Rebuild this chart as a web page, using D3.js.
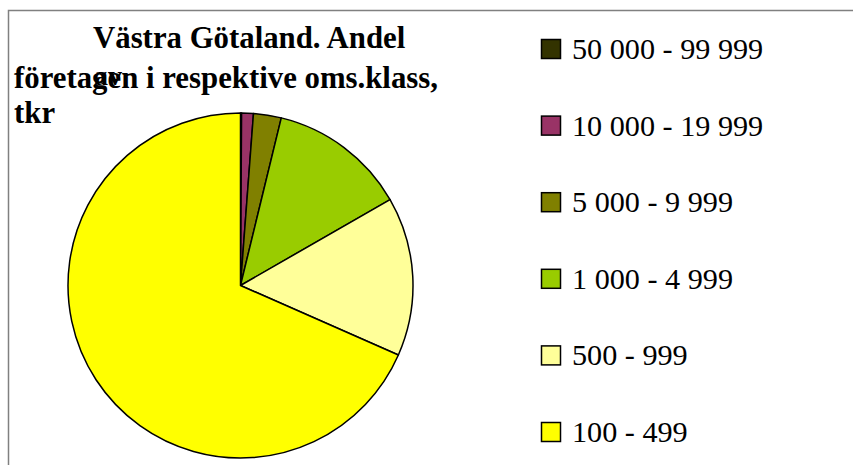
<!DOCTYPE html>
<html>
<head>
<meta charset="utf-8">
<script src="https://cdn.jsdelivr.net/npm/d3@7"></script>
<style>
  body { margin: 0; background: #fff; }
  svg { display: block; }
</style>
</head>
<body>
<div id="chart"></div>
<script>
// data (share of companies, %)
var classes = ["50 000 - 99 999", "10 000 - 19 999", "5 000 - 9 999", "1 000 - 4 999", "500 - 999", "100 - 499"];
var shares = [0.1, 1.1, 2.6, 12.9, 14.9, 68.4];
var colors = ["#333300", "#993366", "#808000", "#99cc00", "#ffff99", "#ffff00"];
var titleLines = ["Västra Götaland. Andel", "företagen i respektive oms.klass,", "tkr"];

var width = 853, height = 465;
var serif = "'Liberation Serif', 'Times New Roman', 'DejaVu Serif', serif";

var svg = d3.select("#chart").append("svg")
    .attr("width", width)
    .attr("height", height);

// chart area frame (runs off the right and bottom)
svg.append("rect")
    .attr("x", 8.5).attr("y", 10.5)
    .attr("width", 900).attr("height", 500)
    .style("fill", "none")
    .style("stroke", "#808080")
    .style("stroke-width", 1.5);

var data = classes.map(function(c, i) { return {label: c, value: shares[i], color: colors[i]}; });

// pie
var radius = 172.5;
var pie = d3.pie().sort(null).value(function(d) { return d.value; });
var arc = d3.arc().innerRadius(0).outerRadius(radius);

var g = svg.append("g")
    .attr("transform", "translate(240.5,285.5)");

g.selectAll("path")
    .data(pie(data))
  .enter().append("path")
    .attr("d", arc)
    .style("fill", function(d) { return d.data.color; })
    .style("stroke", "#000")
    .style("stroke-width", 1.5)
    .style("stroke-linejoin", "round");

// title
var title = svg.append("g").attr("class", "title");
var titlePos = [[93, 48], [14, 88], [14, 123]];
title.selectAll("text.line")
    .data(titleLines)
  .enter().append("text")
    .attr("class", "line")
    .attr("x", function(d, i) { return titlePos[i][0]; })
    .attr("y", function(d, i) { return titlePos[i][1]; })
    .style("font-family", serif)
    .style("font-size", "30.8px")
    .style("font-weight", "bold")
    .text(function(d) { return d; });

// the stray "av" that overlaps the second line
title.append("text")
    .attr("x", 94)
    .attr("y", 85)
    .style("font-family", serif)
    .style("font-size", "28px")
    .style("font-weight", "bold")
    .text("av");

// legend
var legendY = d3.scalePoint().domain(classes).range([59, 442]);

var legend = svg.selectAll(".legend")
    .data(data)
  .enter().append("g")
    .attr("class", "legend")
    .attr("transform", function(d) { return "translate(0," + legendY(d.label) + ")"; });

legend.append("rect")
    .attr("x", 541.5)
    .attr("y", -19.5)
    .attr("width", 19)
    .attr("height", 19)
    .style("fill", function(d) { return d.color; })
    .style("stroke", "#000")
    .style("stroke-width", 1.5);

legend.append("text")
    .attr("x", 572)
    .attr("y", 0)
    .style("font-family", serif)
    .style("font-size", "30.2px")
    .text(function(d) { return d.label; });
</script>
</body>
</html>
